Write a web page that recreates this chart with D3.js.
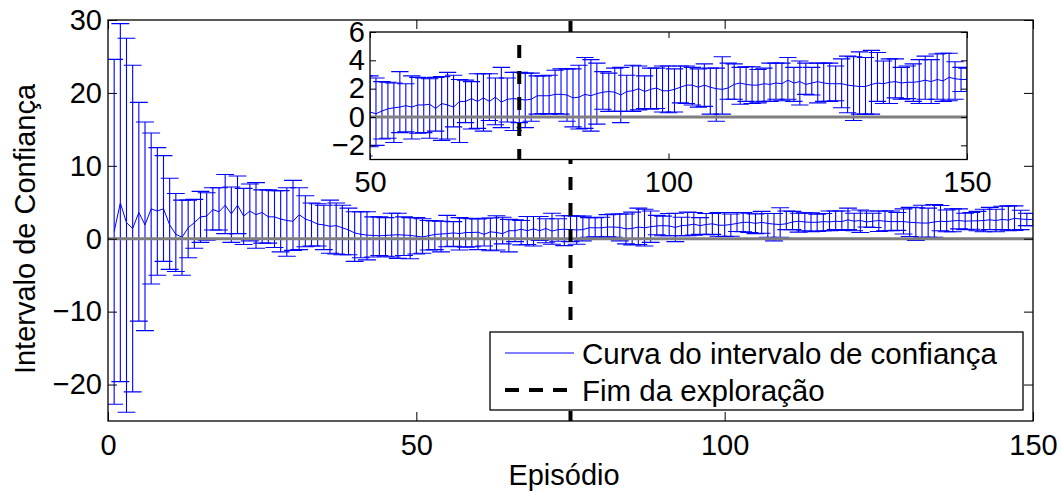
<!DOCTYPE html>
<meta charset="utf-8">
<body style="margin:0;background:#fff">
<script src="https://d3js.org/d3.v7.min.js"></script>
<script>

// mean of the confidence interval per episode (1..150)
const meanVals = [
  1.0, 4.9, 2.2, 1.4, 3.6, 1.9, 4.1, 3.8, 4.1, 1.9,
  0.6, 0.2, 1.5, 2.2, 3.0, 3.1, 4.0, 3.7, 4.6, 3.4,
  4.6, 3.1, 3.8, 3.3, 3.6, 3.0, 3.0, 2.7, 2.5, 2.4,
  3.3, 2.7, 2.4, 2.0, 1.9, 1.7, 1.8, 1.5, 1.2, 0.8,
  0.6, 0.5, 0.45, 0.4, 0.45, 0.5, 0.55, 0.5, 0.45, 0.35,
  0.23, 0.42, 0.58, 0.65, 0.7, 0.8, 0.7, 0.85, 0.85, 0.9,
  0.6, 0.95, 0.85, 0.7, 1.1, 1.1, 1.3, 1.1, 1.35, 1.1,
  1.4, 1.05, 1.25, 1.3, 1.25, 1.2, 1.25, 1.5, 1.5, 1.5,
  1.6, 1.6, 1.55, 1.35, 1.4, 1.6, 1.5, 1.65, 1.75, 1.8,
  1.75, 1.55, 1.8, 1.85, 2.0, 1.8, 1.95, 2.05, 1.85, 1.85,
  1.95, 2.1, 2.25, 2.25, 2.1, 2.25, 2.1, 2.0, 1.95, 2.05,
  2.3, 2.4, 2.3, 2.25, 2.25, 2.35, 2.3, 2.4, 2.35, 2.6,
  2.4, 2.5, 2.3, 2.4, 2.5, 2.4, 2.35, 2.35, 2.35, 2.25,
  2.2, 2.15, 2.15, 2.3, 2.4, 2.35, 2.45, 2.5, 2.4, 2.45,
  2.45, 2.5, 2.6, 2.5, 2.65, 2.55, 2.8, 2.7, 2.65, 2.65
];

const upperVals = [
  24.6, 29.5, 27.5, 23.8, 18.7, 16.0, 14.5, 12.5, 11.4, 8.3,
  6.2, 5.3, 5.3, 5.4, 6.5, 6.3, 7.0, 7.0, 8.8, 7.1,
  8.6, 6.9, 7.5, 7.7, 6.7, 6.7, 6.6, 6.6, 7.0, 8.0,
  7.0, 5.9, 4.9, 4.8, 4.6, 5.3, 4.9, 4.6, 4.2, 3.7,
  3.7, 3.7, 3.0, 3.0, 2.9, 3.5, 3.5, 3.0, 2.9, 2.9,
  2.75, 2.5, 2.45, 2.4, 3.2, 2.35, 2.9, 2.8, 2.75, 2.7,
  2.8, 2.85, 3.15, 2.95, 2.65, 2.6, 2.5, 3.05, 3.05, 3.05,
  2.75, 3.5, 2.75, 3.15, 3.15, 3.1, 3.1, 2.9, 2.9, 2.95,
  3.3, 3.4, 3.4, 3.4, 3.65, 4.2, 4.05, 3.8, 3.2, 3.1,
  3.45, 3.5, 2.95, 3.65, 3.6, 2.9, 3.45, 3.45, 3.6, 3.6,
  3.4, 3.6, 3.6, 3.5, 3.4, 3.75, 3.45, 3.45, 4.25, 3.8,
  3.75, 3.5, 3.55, 3.55, 3.35, 3.45, 3.8, 3.8, 3.8, 4.2,
  3.5, 3.95, 3.8, 3.5, 3.8, 3.8, 3.8, 3.6, 4.1, 4.3,
  4.25, 4.6, 4.2, 4.7, 4.55, 3.95, 4.1, 4.1, 3.5, 3.6,
  3.75, 4.05, 4.3, 4.05, 4.45, 4.5, 4.5, 3.9, 3.5, 3.45
];

const lowerVals = [
  -22.7, -19.6, -23.8, -21.0, -11.3, -12.6, -6.2, -5.0, -3.1, -4.2,
  -4.5, -5.0, -2.6, -1.3, -0.5, -0.2, 1.2, 1.2, 0.7, -0.5,
  0.7, -0.8, -0.3, -1.3, -0.6, -0.6, -1.2, -1.8, -2.4, -1.6,
  -1.5, -1.1, -1.0, -1.0, -1.5, -2.0, -2.1, -2.2, -2.2, -3.1,
  -2.6, -2.9, -2.5, -2.3, -2.4, -2.5, -2.7, -2.3, -2.75, -2.1,
  -2.0, -1.55, -1.5, -1.8, -1.1, -1.05, -1.55, -1.15, -1.1, -1.5,
  -1.0, -1.65, -1.55, -0.7, -1.8, -0.4, -0.85, -0.8, -1.0, -0.25,
  -0.55, -0.75, -0.35, -0.95, -0.4, -0.75, -0.3, 0.2, 0.25, 0.2,
  0.25, 0.2, -0.3, -0.7, -0.85, -0.8, -1.0, -0.5, 0.55, 0.4,
  0.4, -0.4, 0.4, 0.4, 0.5, 0.6, 0.55, 0.6, 0.35, 0.3,
  0.35, 1.0, 0.95, 0.85, 0.7, 0.75, 0.2, -0.3, 0.2, 1.25,
  1.25, 0.9, 1.1, 0.95, 1.0, 1.1, 1.1, 1.25, 1.15, 1.25,
  1.1, 0.85, 1.6, 1.55, 1.0, 1.1, 1.1, 1.15, 0.65, 0.3,
  -0.25, 0.2, 0.2, 0.2, 1.1, 0.95, 0.95, 1.35, 1.25, 1.3,
  1.1, 0.95, 1.25, 0.95, 1.25, 1.1, 1.15, 1.25, 1.8, 1.8
];

const explorationEnd = 75;

const mainXTicks = [0, 50, 100, 150];
const mainYTicks = [-20, -10, 0, 10, 20, 30];
const insetXTicks = [50, 100, 150];
const insetYTicks = [-2, 0, 2, 4, 6];

const legendLabels = ["Curva do intervalo de confiança", "Fim da exploração"];
const xLabel = "Episódio";
const yLabel = "Intervalo de Confiança";

const fontFamily = "'Liberation Sans', Arial, Helvetica, sans-serif";
const minus = d => String(d).replace("-", "\u2212");

const data = meanVals.map((m, i) => ({ep: i + 1, mean: m, hi: upperVals[i], lo: lowerVals[i]}));

const svg = d3.select("body").append("svg")
    .attr("width", 1062)
    .attr("height", 492)
    .style("font-family", fontFamily);

const defs = svg.append("defs");

function panel(box, xDomain, yDomain, xTicks, yTicks, opt) {
  const x = d3.scaleLinear().domain(xDomain).range([box.left, box.right]);
  const y = d3.scaleLinear().domain(yDomain).range([box.bottom, box.top]);
  const g = svg.append("g");

  g.append("rect")
      .attr("x", box.left).attr("y", box.top)
      .attr("width", box.right - box.left).attr("height", box.bottom - box.top)
      .attr("fill", "#fff");

  defs.append("clipPath").attr("id", opt.name + "-clip")
    .append("rect")
      .attr("x", box.left).attr("y", box.top)
      .attr("width", box.right - box.left).attr("height", box.bottom - box.top);

  const plot = g.append("g").attr("clip-path", `url(#${opt.name}-clip)`);

  // error bars (tee half width in data units, same for both panels)
  const cap = 1.45;
  plot.append("g").selectAll("path")
    .data(data)
    .join("path")
      .attr("d", d => {
        const cx = x(d.ep), c = x(d.ep + cap) - cx;
        return `M${cx},${y(d.lo)}V${y(d.hi)}M${cx - c},${y(d.hi)}H${cx + c}M${cx - c},${y(d.lo)}H${cx + c}`;
      })
      .attr("fill", "none")
      .attr("stroke", "#0000ff")
      .attr("stroke-width", 1.1);

  plot.append("path")
      .datum(data)
      .attr("d", d3.line().x(d => x(d.ep)).y(d => y(d.mean)))
      .attr("fill", "none")
      .attr("stroke", "#0000ff")
      .attr("stroke-width", 1);

  // zero line
  plot.append("line")
      .attr("x1", box.left).attr("x2", box.right)
      .attr("y1", y(0)).attr("y2", y(0))
      .attr("stroke", "#7f7f7f")
      .attr("stroke-width", 3);

  // end of exploration
  plot.append("line")
      .attr("x1", x(explorationEnd)).attr("x2", x(explorationEnd))
      .attr("y1", box.top).attr("y2", box.bottom)
      .attr("stroke", "#000")
      .attr("stroke-width", 4)
      .attr("stroke-dasharray", "13,13")
      .attr("stroke-dashoffset", opt.dashOffset);

  const tl = opt.tickLen;
  const styleAxis = sel => {
    sel.select(".domain").remove();
    sel.selectAll(".tick line").attr("stroke", "#000").attr("stroke-width", 1);
    sel.selectAll(".tick text")
        .attr("fill", "#000")
        .style("font-family", fontFamily)
        .style("font-size", opt.fontSize + "px");
  };

  g.append("g")
      .attr("transform", `translate(0,${box.bottom})`)
      .call(d3.axisBottom(x).tickValues(xTicks).tickSizeInner(-tl).tickSizeOuter(0)
        .tickPadding(opt.xPad).tickFormat(minus))
      .call(styleAxis);
  g.append("g")
      .attr("transform", `translate(0,${box.top})`)
      .call(d3.axisTop(x).tickValues(xTicks).tickSizeInner(-tl).tickSizeOuter(0).tickFormat(""))
      .call(styleAxis);
  g.append("g")
      .attr("transform", `translate(${box.left},0)`)
      .call(d3.axisLeft(y).tickValues(yTicks).tickSizeInner(-tl).tickSizeOuter(0)
        .tickPadding(opt.yPad).tickFormat(minus))
      .call(styleAxis);
  g.append("g")
      .attr("transform", `translate(${box.right},0)`)
      .call(d3.axisRight(y).tickValues(yTicks).tickSizeInner(-tl).tickSizeOuter(0).tickFormat(""))
      .call(styleAxis);

  g.append("rect")
      .attr("x", box.left).attr("y", box.top)
      .attr("width", box.right - box.left).attr("height", box.bottom - box.top)
      .attr("fill", "none")
      .attr("stroke", "#000")
      .attr("stroke-width", 1.3);

  return {x, y, g};
}

// main axes
const mainBox = {left: 108, right: 1033, top: 20, bottom: 421};
panel(mainBox, [0, 150], [-25, 30], mainXTicks, mainYTicks,
  {name: "main", tickLen: 9, fontSize: 29, xPad: 13, yPad: 6, dashOffset: 25});

svg.append("text")
    .attr("x", 564).attr("y", 485)
    .attr("text-anchor", "middle")
    .style("font-size", "29px")
    .text(xLabel);

svg.append("text")
    .attr("transform", "translate(35,229) rotate(-90)")
    .attr("text-anchor", "middle")
    .style("font-size", "29px")
    .text(yLabel);

// legend
const legend = svg.append("g");
legend.append("rect")
    .attr("x", 490).attr("y", 332)
    .attr("width", 533).attr("height", 78)
    .attr("fill", "#fff")
    .attr("stroke", "#000")
    .attr("stroke-width", 1.3);

const rows = legend.selectAll(".row")
  .data(legendLabels)
  .join("g")
    .attr("class", "row")
    .attr("transform", (d, i) => `translate(0,${353 + i * 37})`);

rows.append("line")
    .attr("x1", 505).attr("x2", 574)
    .attr("stroke", (d, i) => i ? "#000" : "#0000ff")
    .attr("stroke-width", (d, i) => i ? 4 : 1)
    .attr("stroke-dasharray", (d, i) => i ? "14,10" : null);

rows.append("text")
    .attr("x", 582)
    .attr("dy", "0.36em")
    .style("font-size", "29.5px")
    .text(d => d);

// inset axes
const insetBox = {left: 370, right: 967, top: 32, bottom: 159.5};
panel(insetBox, [50, 150], [-3, 6], insetXTicks, insetYTicks,
  {name: "inset", tickLen: 6, fontSize: 29, xPad: 12, yPad: 5, dashOffset: 13});

</script>
